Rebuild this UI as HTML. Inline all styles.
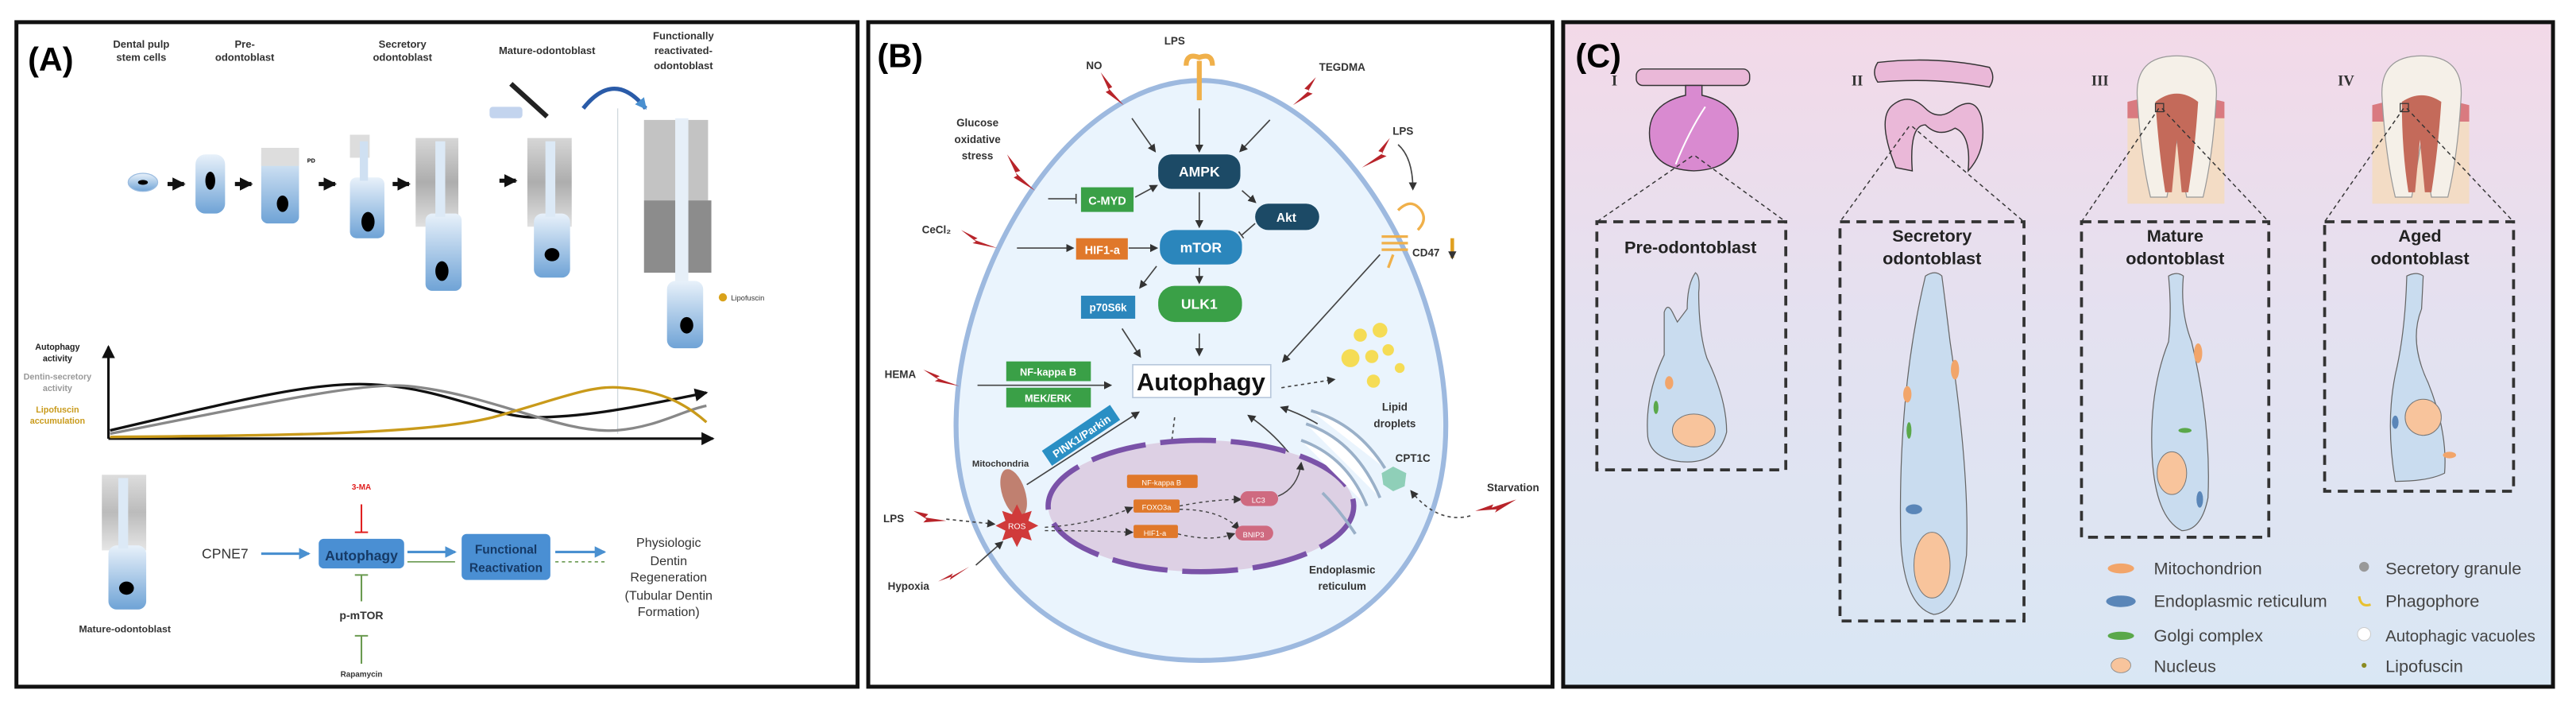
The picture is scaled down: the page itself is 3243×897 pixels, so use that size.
<!DOCTYPE html>
<html><head><meta charset="utf-8"><style>
html,body{margin:0;padding:0;background:#fff;}
svg{display:block;font-family:"Liberation Sans",sans-serif;}
</style></head><body>
<svg width="3243" height="897" viewBox="0 0 1568 434" preserveAspectRatio="none" xmlns="http://www.w3.org/2000/svg">
<defs>
<linearGradient id="gc" x1="0" y1="0" x2="0" y2="1"><stop offset="0" stop-color="#f3d9e8"/><stop offset="0.45" stop-color="#e4e1f0"/><stop offset="1" stop-color="#d9e7f4"/></linearGradient>
<linearGradient id="cell" x1="0" y1="0" x2="0" y2="1"><stop offset="0" stop-color="#e8f1fa"/><stop offset="1" stop-color="#6fa3d6"/></linearGradient>
<linearGradient id="gray" x1="0" y1="0" x2="0" y2="1"><stop offset="0" stop-color="#bbb"/><stop offset="0.5" stop-color="#777"/><stop offset="1" stop-color="#ccc"/></linearGradient>
<marker id="ah" markerUnits="userSpaceOnUse" markerWidth="5" markerHeight="5" refX="4" refY="2.5" orient="auto"><path d="M0,0L5,2.5L0,5z" fill="#333"/></marker>
<marker id="ahk" markerUnits="userSpaceOnUse" markerWidth="8" markerHeight="8" refX="7" refY="4" orient="auto"><path d="M0,0L8,4L0,8z" fill="#111"/></marker>
<marker id="ahb" markerUnits="userSpaceOnUse" markerWidth="7" markerHeight="7" refX="6" refY="3.5" orient="auto"><path d="M0,0L7,3.5L0,7z" fill="#4a90d0"/></marker>
</defs>

<!-- PANEL A -->
<rect x="10" y="13.5" width="512" height="404.5" fill="#fff" stroke="#111" stroke-width="2.4"/>
<text x="17" y="43" font-size="20" font-weight="bold">(A)</text>
<g font-size="6.3" font-weight="bold" fill="#333" text-anchor="middle">
<text x="86" y="29">Dental pulp</text><text x="86" y="37">stem cells</text>
<text x="149" y="29">Pre-</text><text x="149" y="37">odontoblast</text>
<text x="245" y="29">Secretory</text><text x="245" y="37">odontoblast</text>
<text x="333" y="33">Mature-odontoblast</text>
<text x="416" y="24">Functionally</text><text x="416" y="33">reactivated-</text><text x="416" y="42">odontoblast</text>
</g>
<!-- cells -->
<ellipse cx="87" cy="111" rx="9" ry="5.5" fill="url(#cell)" stroke="#9bbce0" stroke-width="0.6"/>
<ellipse cx="87" cy="111" rx="3" ry="1.5" fill="#000"/>
<path d="M102,112h10" stroke="#111" stroke-width="2.5" marker-end="url(#ahk)"/>
<rect x="119" y="94" width="18" height="36" rx="6" fill="url(#cell)"/>
<ellipse cx="128" cy="110" rx="3" ry="5.5" fill="#000"/>
<path d="M143,112h10" stroke="#111" stroke-width="2.5" marker-end="url(#ahk)"/>
<rect x="159" y="90" width="23" height="46" rx="4" fill="url(#cell)"/><path d="M159,90h23v11h-23z" fill="#ddd"/>
<ellipse cx="172" cy="124" rx="3.5" ry="5" fill="#000"/>
<text x="187" y="99" font-size="3.5" font-weight="bold">PD</text>
<path d="M194,112h10" stroke="#111" stroke-width="2.5" marker-end="url(#ahk)"/>
<rect x="213" y="82" width="12" height="14" fill="#ddd"/>
<rect x="213" y="108" width="21" height="37" rx="4" fill="url(#cell)"/><rect x="219" y="86" width="5" height="24" fill="#cfe0f2"/>
<ellipse cx="224" cy="135" rx="4" ry="6" fill="#000"/>
<path d="M239,112h10" stroke="#111" stroke-width="2.5" marker-end="url(#ahk)"/>
<rect x="253" y="84" width="26" height="54" fill="url(#gray)" opacity="0.6"/>
<rect x="259" y="130" width="22" height="47" rx="4" fill="url(#cell)"/><rect x="265" y="86" width="6" height="46" fill="#dce9f6"/>
<ellipse cx="269" cy="165" rx="4" ry="6" fill="#000"/>
<path d="M304,110h10" stroke="#111" stroke-width="2.5" marker-end="url(#ahk)"/>
<rect x="321" y="84" width="27" height="54" fill="url(#gray)" opacity="0.6"/>
<rect x="325" y="130" width="22" height="39" rx="5" fill="url(#cell)"/><rect x="332" y="86" width="6" height="46" fill="#dce9f6"/>
<ellipse cx="336" cy="155" rx="4.5" ry="4" fill="#000"/>
<rect x="298" y="65" width="20" height="7" rx="2" fill="#c3d4ee"/>
<path d="M311,51l22,20" stroke="#222" stroke-width="3"/>
<path d="M355,66q19,-24 38,0" fill="none" stroke="#2a5ba8" stroke-width="2.5" marker-end="url(#ahb)"/>
<line x1="376" y1="66" x2="376" y2="264" stroke="#cfd6dc" stroke-width="0.6"/>
<rect x="392" y="73" width="39" height="49" fill="#aaa" opacity="0.7"/>
<rect x="392" y="122" width="41" height="44" fill="#666" opacity="0.75"/>
<rect x="411" y="72" width="8" height="102" fill="#e6eff8"/>
<rect x="406" y="171" width="22" height="41" rx="5" fill="url(#cell)"/>
<ellipse cx="418" cy="198" rx="4" ry="5" fill="#000"/>
<circle cx="440" cy="181" r="2.5" fill="#d9a21b"/><text x="445" y="183" font-size="4.5" fill="#333">Lipofuscin</text>
<!-- graph -->
<g font-size="5.2" text-anchor="middle" font-weight="bold">
<text x="35" y="213" fill="#222">Autophagy</text><text x="35" y="220" fill="#222">activity</text>
<text x="35" y="231" fill="#999">Dentin-secretory</text><text x="35" y="238" fill="#999">activity</text>
<text x="35" y="251" fill="#c99a1a">Lipofuscin</text><text x="35" y="258" fill="#c99a1a">accumulation</text>
</g>
<line x1="66" y1="267" x2="66" y2="211" stroke="#111" stroke-width="1.5" marker-end="url(#ahk)"/>
<line x1="66" y1="267" x2="434" y2="267" stroke="#111" stroke-width="1.5" marker-end="url(#ahk)"/>
<path d="M67,262 C140,245 190,232 226,234 C270,236 300,254 325,254 C360,254 395,246 430,239" fill="none" stroke="#111" stroke-width="1.6" marker-end="url(#ahk)"/>
<path d="M67,264 C150,248 220,232 248,235 C300,240 340,264 375,262 C400,260 415,250 430,247" fill="none" stroke="#888" stroke-width="1.6"/>
<path d="M67,266 C180,265 260,264 300,254 C340,243 360,234 378,236 C405,238 420,248 430,257" fill="none" stroke="#c99a1a" stroke-width="1.6"/>
<!-- bottom -->
<rect x="62" y="289" width="27" height="46" fill="url(#gray)" opacity="0.5"/>
<rect x="66" y="332" width="23" height="39" rx="5" fill="url(#cell)"/><rect x="72" y="291" width="6" height="43" fill="#dce9f6"/>
<ellipse cx="77" cy="358" rx="4.5" ry="4" fill="#000"/>
<text x="76" y="385" font-size="6" font-weight="bold" text-anchor="middle" fill="#333">Mature-odontoblast</text>
<text x="137" y="340" font-size="8.5" text-anchor="middle" fill="#333">CPNE7</text>
<line x1="159" y1="337" x2="188" y2="337" stroke="#4a90d0" stroke-width="1.5" marker-end="url(#ahb)"/>
<rect x="194" y="328" width="52" height="18" rx="3" fill="#4a8fd3"/>
<text x="220" y="341" font-size="8.5" font-weight="bold" text-anchor="middle" fill="#163a66">Autophagy</text>
<text x="220" y="298" font-size="4.8" font-weight="bold" text-anchor="middle" fill="#e02020">3-MA</text>
<path d="M220,307v17M216,324h8" stroke="#e02020" stroke-width="1"/>
<path d="M220,366v-16M216,350h8" stroke="#6a9a50" stroke-width="1"/>
<text x="220" y="377" font-size="6.8" font-weight="bold" text-anchor="middle" fill="#333">p-mTOR</text>
<path d="M220,404v-17M216,387h8" stroke="#6a9a50" stroke-width="1"/>
<text x="220" y="412" font-size="4.8" font-weight="bold" text-anchor="middle" fill="#333">Rapamycin</text>
<line x1="248" y1="336" x2="277" y2="336" stroke="#4a90d0" stroke-width="1.5" marker-end="url(#ahb)"/>
<line x1="248" y1="342" x2="277" y2="342" stroke="#6a9a50" stroke-width="0.8"/>
<rect x="281" y="325" width="54" height="28" rx="3" fill="#4a8fd3"/>
<text x="308" y="337" font-size="7.5" font-weight="bold" text-anchor="middle" fill="#163a66">Functional</text>
<text x="308" y="348" font-size="7.5" font-weight="bold" text-anchor="middle" fill="#163a66">Reactivation</text>
<line x1="338" y1="336" x2="368" y2="336" stroke="#4a90d0" stroke-width="1.5" marker-end="url(#ahb)"/>
<line x1="338" y1="342" x2="368" y2="342" stroke="#6a9a50" stroke-width="0.8" stroke-dasharray="2,2"/>
<g font-size="7.8" text-anchor="middle" fill="#333"><text x="407" y="333">Physiologic</text><text x="407" y="344">Dentin</text><text x="407" y="354">Regeneration</text><text x="407" y="365">(Tubular Dentin</text><text x="407" y="375">Formation)</text></g>

<!-- PANEL B -->
<rect x="528.5" y="13.5" width="416.5" height="404.5" fill="#fff" stroke="#111" stroke-width="2.4"/>
<text x="534" y="41" font-size="20" font-weight="bold">(B)</text>
<path d="M731,49 C810,49 878,160 880,255 C882,345 820,402 731,402 C642,402 580,345 582,255 C584,160 652,49 731,49Z" fill="#eaf4fd" stroke="#9db9df" stroke-width="3"/>
<g font-size="6.5" font-weight="bold" fill="#333" text-anchor="middle">
<text x="715" y="27">LPS</text><text x="666" y="42">NO</text><text x="817" y="43">TEGDMA</text>
<text x="595" y="77">Glucose</text><text x="595" y="87">oxidative</text><text x="595" y="97">stress</text>
<text x="570" y="142">CeCl₂</text><text x="548" y="230">HEMA</text><text x="854" y="82">LPS</text>
<text x="868" y="156">CD47</text><text x="849" y="250">Lipid</text><text x="849" y="260">droplets</text>
<text x="609" y="284" font-size="5.5">Mitochondria</text><text x="860" y="281">CPT1C</text><text x="921" y="299">Starvation</text>
<text x="817" y="349">Endoplasmic</text><text x="817" y="359">reticulum</text><text x="544" y="318">LPS</text><text x="553" y="359">Hypoxia</text>
<text x="749" y="343" font-size="5.5">Nucleus</text>
<text x="666" y="300" font-size="5">Transcription</text><text x="666" y="307" font-size="5">Factors</text>
</g>
<!-- LPS receptor -->
<g fill="none" stroke="#f0b04a" stroke-width="3"><path d="M722,40q0,-8 8,-5q8,-3 8,5"/><path d="M730,37v24"/></g>
<g fill="#b8242a">
<path d="M670,44l7,9l-2,1l9,10l-11,-8l2,-1z"/><path d="M801,47l-7,7l3,1l-10,9l12,-7l-3,-1z"/>
<path d="M613,94l8,10l-3,1l12,11l-13,-8l2,-1z"/><path d="M585,140l10,5l-2,1l14,5l-15,-3l2,-1z"/>
<path d="M562,225l10,4l-2,1l14,5l-15,-3l2,-1z"/><path d="M846,84l-7,8l3,1l-13,9l15,-7l-3,-1z"/>
<path d="M556,311l9,2l-2,2l13,2l-14,1l2,-2z"/><path d="M571,354l9,-5l-1,2l11,-6l-12,8l1,-2z"/>
<path d="M898,311l11,-4l-1,2l15,-5l-13,8l1,-2z"/>
</g>
<g stroke="#444" stroke-width="0.8" fill="none">
<line x1="689" y1="72" x2="703" y2="92" marker-end="url(#ah)"/><line x1="730" y1="66" x2="730" y2="92" marker-end="url(#ah)"/><line x1="773" y1="73" x2="755" y2="92" marker-end="url(#ah)"/>
<path d="M638,121h17M655,118v6"/><line x1="691" y1="120" x2="704" y2="113" marker-end="url(#ah)"/>
<line x1="730" y1="117" x2="730" y2="138" marker-end="url(#ah)"/><line x1="756" y1="116" x2="764" y2="123" marker-end="url(#ah)"/><path d="M764,136l-8,7M754,141l3,4"/>
<line x1="619" y1="151" x2="653" y2="151" marker-end="url(#ah)"/><line x1="687" y1="151" x2="704" y2="151" marker-end="url(#ah)"/>
<line x1="704" y1="162" x2="694" y2="175" marker-end="url(#ah)"/><line x1="730" y1="163" x2="730" y2="172" marker-end="url(#ah)"/>
<line x1="683" y1="200" x2="694" y2="217" marker-end="url(#ah)"/><line x1="730" y1="203" x2="730" y2="216" marker-end="url(#ah)"/>
<line x1="595" y1="234.5" x2="676" y2="234.5" marker-end="url(#ah)"/><line x1="840" y1="155" x2="781" y2="220" marker-end="url(#ah)"/>
<path d="M851,88q9,8 9,27" marker-end="url(#ah)"/>
<line x1="780" y1="236" x2="812" y2="231" stroke-dasharray="2,2" marker-end="url(#ah)"/>
<line x1="625" y1="295" x2="693" y2="251" marker-end="url(#ah)"/>
<line x1="715" y1="254" x2="711" y2="287" stroke-dasharray="2,2" marker-end="url(#ah)"/>
<path d="M804,318q-8,-40 -44,-65" marker-end="url(#ah)"/><path d="M802,258q-10,-6 -22,-10" marker-end="url(#ah)"/>
<path d="M895,314q-20,5 -36,-15" stroke-dasharray="2,2" marker-end="url(#ah)"/>
<line x1="576" y1="316" x2="605" y2="319" stroke-dasharray="2,2" marker-end="url(#ah)"/>
<line x1="594" y1="344" x2="610" y2="330" marker-end="url(#ah)"/>
</g>
<ellipse cx="731" cy="308" rx="93" ry="40" fill="#ddd0e4" stroke="#7a52a8" stroke-width="3.2" stroke-dasharray="34,9"/>
<g stroke="#444" stroke-width="0.7" fill="none" stroke-dasharray="2,2">
<path d="M636,321q30,-2 53,-12" marker-end="url(#ah)"/><path d="M636,323q30,0 53,1" marker-end="url(#ah)"/>
<path d="M718,308q20,-4 37,-4" marker-end="url(#ah)"/><path d="M718,310q25,0 36,12" marker-end="url(#ah)"/><path d="M717,325q20,5 34,0" marker-end="url(#ah)"/>
</g>
<path d="M778,302q12,-5 14,-20" stroke="#444" stroke-width="0.7" fill="none" marker-end="url(#ah)"/>
<rect x="686" y="289" width="43" height="8" rx="1" fill="#e0782a"/><text x="707" y="295.5" font-size="4.5" fill="#fff" text-anchor="middle">NF-kappa B</text>
<rect x="690" y="304" width="28" height="8" rx="1" fill="#e0782a"/><text x="704" y="310.5" font-size="4.5" fill="#fff" text-anchor="middle">FOXO3a</text>
<rect x="690" y="319.5" width="27" height="8" rx="1" fill="#e0782a"/><text x="703" y="326" font-size="4.5" fill="#fff" text-anchor="middle">HIF1-a</text>
<rect x="755" y="299" width="23" height="9" rx="4.5" fill="#cf6a80"/><text x="766" y="306" font-size="4.5" fill="#fff" text-anchor="middle">LC3</text>
<rect x="752" y="320" width="23" height="9" rx="4.5" fill="#cf6a80"/><text x="763" y="327" font-size="4.5" fill="#fff" text-anchor="middle">BNIP3</text>
<ellipse cx="617" cy="300" rx="7" ry="15" fill="#c08070" transform="rotate(-18 617 300)"/>
<path d="M619,307l3,6l6,-2l-2,6l6,3l-6,3l2,6l-6,-2l-3,6l-3,-6l-6,2l2,-6l-6,-3l6,-3l-2,-6l6,2z" fill="#d03a3a"/>
<text x="619" y="322" font-size="5" fill="#fff" text-anchor="middle">ROS</text>
<g transform="rotate(-34 658 265)"><rect x="633" y="259.5" width="50" height="11" fill="#2a8fc4"/><text x="658" y="268" font-size="6.5" font-weight="bold" fill="#fff" text-anchor="middle">PINK1/Parkin</text></g>
<g stroke="#9ab0c8" stroke-width="1.8" fill="#fff"><path d="M795,258q30,10 45,45M792,268q28,10 40,40M798,250q28,8 45,35M805,300q10,10 20,25"/></g>
<path d="M841,288l7,-4l8,4l-1,8l-7,3l-6,-4z" fill="#8fcfb8"/>
<g fill="#f5dc55"><circle cx="828" cy="204" r="4"/><circle cx="840" cy="201" r="4.5"/><circle cx="822" cy="218" r="5.5"/><circle cx="835" cy="217" r="4"/><circle cx="845" cy="213" r="3.5"/><circle cx="852" cy="224" r="3"/><circle cx="836" cy="232" r="4"/></g>
<g fill="none" stroke="#f0b04a" stroke-width="1.6"><path d="M851,128q8,-8 14,0q4,6 -2,12"/><path d="M841,144h16M841,148h16M841,152h16"/><path d="M848,155l-3,8"/></g>
<path d="M884,145v12" stroke="#e0a020" stroke-width="2.2" marker-end="url(#ah)"/>
<rect x="705" y="94" width="50" height="21" rx="8" fill="#1c4a66"/><text x="730" y="107.5" font-size="8.5" font-weight="bold" fill="#fff" text-anchor="middle">AMPK</text>
<rect x="764" y="124" width="39" height="16" rx="8" fill="#1c4a66"/><text x="783" y="135" font-size="7.5" font-weight="bold" fill="#fff" text-anchor="middle">Akt</text>
<rect x="706" y="140" width="50" height="21" rx="9" fill="#2b86bc"/><text x="731" y="153.5" font-size="8.5" font-weight="bold" fill="#fff" text-anchor="middle">mTOR</text>
<rect x="705" y="174" width="51" height="22" rx="10" fill="#3aa047"/><text x="730" y="188" font-size="8.5" font-weight="bold" fill="#fff" text-anchor="middle">ULK1</text>
<rect x="658" y="114" width="32" height="15" fill="#3aa047"/><text x="674" y="124.5" font-size="7" font-weight="bold" fill="#fff" text-anchor="middle">C-MYD</text>
<rect x="655" y="145" width="31.5" height="13" fill="#e0782a"/><text x="671" y="154.5" font-size="7" font-weight="bold" fill="#fff" text-anchor="middle">HIF1-a</text>
<rect x="658" y="180" width="33" height="14" fill="#2b86bc"/><text x="674.5" y="189.5" font-size="6.5" font-weight="bold" fill="#fff" text-anchor="middle">p70S6k</text>
<rect x="612.5" y="220" width="51.5" height="12" fill="#3aa047"/><text x="638" y="228.5" font-size="6.2" font-weight="bold" fill="#fff" text-anchor="middle">NF-kappa B</text>
<rect x="612.5" y="236" width="51.5" height="12" fill="#3aa047"/><text x="638" y="244.5" font-size="6.2" font-weight="bold" fill="#fff" text-anchor="middle">MEK/ERK</text>
<rect x="689.5" y="222" width="84" height="20" fill="#fff" stroke="#b8c8dc" stroke-width="0.8"/>
<text x="731" y="237.5" font-size="15" font-weight="bold" fill="#111" text-anchor="middle">Autophagy</text>

<!-- PANEL C -->
<rect x="951.5" y="13.5" width="602.5" height="404.5" fill="url(#gc)" stroke="#111" stroke-width="2.4"/>
<text x="959" y="41" font-size="20" font-weight="bold">(C)</text>
<g font-family="Liberation Serif,serif" font-weight="bold" font-size="9" fill="#333"><text x="981" y="52">I</text><text x="1127" y="52">II</text><text x="1273" y="52">III</text><text x="1423" y="52">IV</text></g>
<!-- I -->
<rect x="996" y="42" width="69" height="10" rx="4" fill="#eab8d8" stroke="#333" stroke-width="0.7"/>
<path d="M1026,52h10v6 q22,5 22,23 q0,22 -27,23 q-27,-1 -27,-23 q0,-18 22,-23z" fill="#d98ad0" stroke="#333" stroke-width="0.7"/>
<path d="M1020,100q8,-20 18,-35" stroke="#fff" stroke-width="1" fill="none"/>
<!-- II -->
<path d="M1143,38q35,-4 68,3q4,6 0,12q-33,-6 -68,-3q-4,-6 0,-12z" fill="#eab8d8" stroke="#333" stroke-width="0.7"/>
<path d="M1154,102q-12,-30 -2,-38q10,-8 20,2q8,8 18,0q12,-8 16,5q4,20 -8,33q2,-22 -8,-26q-10,6 -18,-2q-10,0 -8,28z" fill="#eab8d8" stroke="#333" stroke-width="0.7"/>
<!-- III -->
<g>
<rect x="1295" y="62" width="59" height="62" fill="#f3dcc5"/><path d="M1295,62q30,-8 59,0v10h-59z" fill="#d97a80"/>
<path d="M1301,60q-2,-26 24,-26q26,0 24,26q-2,35 -8,60h-10l-6,-35l-6,35h-10q-6,-25 -8,-60z" fill="#f5f0e8" stroke="#999" stroke-width="0.6"/>
<path d="M1312,62q13,-10 26,0q-2,30 -6,55h-4l-3,-32l-3,32h-4q-4,-25 -6,-55z" fill="#c46a5a"/>
<rect x="1312" y="63" width="5" height="5" fill="none" stroke="#333" stroke-width="0.6"/>
</g>
<!-- IV -->
<g>
<rect x="1444" y="64" width="59" height="60" fill="#f3dcc5"/><path d="M1444,64q29,-8 59,0v10h-59z" fill="#d97a80"/>
<path d="M1450,60q-2,-26 24,-26q26,0 24,26q-2,35 -8,60h-10l-6,-35l-6,35h-10q-6,-25 -8,-60z" fill="#f5f0e8" stroke="#999" stroke-width="0.6"/>
<path d="M1462,62q12,-8 24,0q-2,30 -6,55h-4l-3,-32l-3,32h-4q-4,-25 -4,-55z" fill="#c46a5a"/>
<rect x="1461" y="63" width="5" height="5" fill="none" stroke="#333" stroke-width="0.6"/>
</g>
<g stroke="#333" stroke-width="0.7" stroke-dasharray="2.5,2" fill="none">
<path d="M1030,95L972,135M1032,95L1087,135"/><path d="M1162,77L1120,135M1164,77L1232,135"/><path d="M1314,66L1267,135M1316,66L1381,135"/><path d="M1463,66L1415,135M1465,66L1530,135"/>
</g>
<g stroke="#333" stroke-width="1.8" stroke-dasharray="6,4" fill="none">
<rect x="972" y="135" width="115" height="151"/><rect x="1120" y="135" width="112" height="243"/><rect x="1267" y="135" width="114" height="192"/><rect x="1415" y="135" width="115" height="164"/>
</g>
<g font-size="10.5" font-weight="bold" fill="#222" text-anchor="middle">
<text x="1029" y="154">Pre-odontoblast</text>
<text x="1176" y="147">Secretory</text><text x="1176" y="161">odontoblast</text>
<text x="1324" y="147">Mature</text><text x="1324" y="161">odontoblast</text>
<text x="1473" y="147">Aged</text><text x="1473" y="161">odontoblast</text>
</g>
<g fill="#c9dcef" stroke="#666" stroke-width="0.6">
<path d="M1013,190q2,-6 5,0l3,6l6,-8q0,-15 5,-22q3,2 2,12q0,25 5,40q12,25 12,45q-5,20 -28,18q-18,-2 -20,-15q-2,-25 10,-50z"/>
<path d="M1172,168q6,-4 10,0q2,15 5,40q12,80 10,130q-5,35 -20,36q-18,-5 -20,-45q-2,-90 15,-161z"/>
<path d="M1320,168q5,-3 9,0q-2,22 5,40q12,50 10,95q-4,20 -16,20q-16,-8 -18,-45q-2,-40 10,-70q2,-20 0,-40z"/>
<path d="M1465,168q6,-3 10,0l-1,20q-8,20 4,45q12,30 10,55q-10,5 -30,5q-6,-35 0,-65q6,-25 7,-60z"/>
</g>
<g fill="#f8c49c" stroke="#777" stroke-width="0.5">
<ellipse cx="1031" cy="262" rx="13" ry="10"/><ellipse cx="1176" cy="344" rx="11" ry="20"/><ellipse cx="1322" cy="288" rx="9" ry="13"/><ellipse cx="1475" cy="254" rx="11" ry="11"/>
</g>
<g fill="#f2a56a"><ellipse cx="1016" cy="233" rx="2.5" ry="4"/><ellipse cx="1161" cy="240" rx="2.5" ry="5"/><ellipse cx="1190" cy="225" rx="2.5" ry="6"/><ellipse cx="1338" cy="215" rx="2.5" ry="6"/><ellipse cx="1491" cy="277" rx="4" ry="2"/></g>
<g fill="#5aa84a"><ellipse cx="1008" cy="248" rx="1.5" ry="4"/><ellipse cx="1162" cy="262" rx="1.5" ry="5"/><ellipse cx="1330" cy="262" rx="4" ry="1.5"/></g>
<g fill="#5a86b8"><ellipse cx="1165" cy="310" rx="5" ry="3"/><ellipse cx="1339" cy="304" rx="2" ry="5"/><ellipse cx="1458" cy="257" rx="2" ry="4"/></g>
<!-- legend -->
<g font-size="10.5" fill="#444">
<ellipse cx="1291" cy="346" rx="8" ry="3" fill="#f2a56a"/><text x="1311" y="349.5">Mitochondrion</text>
<ellipse cx="1291" cy="366" rx="9" ry="3.5" fill="#5a86b8"/><text x="1311" y="369.5">Endoplasmic reticulum</text>
<ellipse cx="1291" cy="387" rx="8" ry="2.5" fill="#5aa84a"/><text x="1311" y="390.5">Golgi complex</text>
<ellipse cx="1291" cy="405" rx="6" ry="4.5" fill="#f8c49c" stroke="#888" stroke-width="0.4"/><text x="1311" y="409">Nucleus</text>
<circle cx="1439" cy="345" r="3" fill="#999"/><text x="1452" y="349.5">Secretory granule</text>
<path d="M1436,363q1,7 7,5" stroke="#e8c030" stroke-width="1.5" fill="none"/><text x="1452" y="369.5">Phagophore</text>
<circle cx="1439" cy="386" r="4" fill="#fff" stroke="#ccc" stroke-width="0.5"/><text x="1452" y="390.5" font-size="9.9">Autophagic vacuoles</text>
<circle cx="1439" cy="405" r="1.5" fill="#8a8a20"/><text x="1452" y="409">Lipofuscin</text>
</g>
</svg>
</body></html>
